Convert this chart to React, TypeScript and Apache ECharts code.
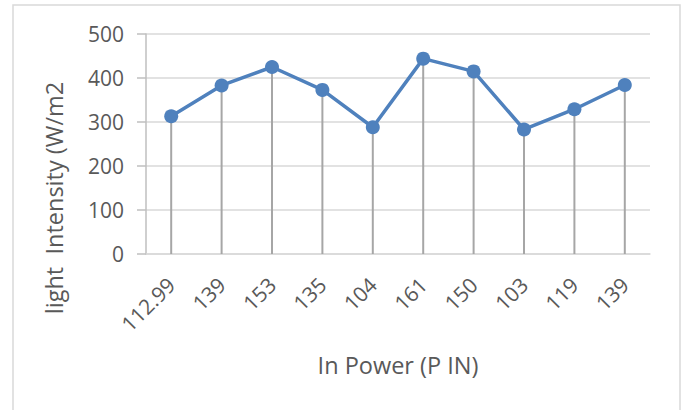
import React, { useEffect, useRef } from "react";
import * as echarts from "echarts";

const categories = ["112.99", "139", "153", "135", "104", "161", "150", "103", "119", "139"];
const intensity = [313, 383, 425, 373, 288, 444, 415, 283, 329, 384];
const yTicks = { min: 0, max: 500, interval: 100 };
const yTitle = "light  Intensity (W/m2";
const xTitle = "In Power (P IN)";

const FONT = "'Open Sans', 'DejaVu Sans', sans-serif";
const TXT = "#595959";

export default function App() {
  const ref = useRef<HTMLDivElement>(null);
  useEffect(() => {
    document.body.style.margin = "0";
    const chart = echarts.init(ref.current!, null, { renderer: "svg" });
    chart.setOption({
      animation: false,
      backgroundColor: "#ffffff",
      grid: { left: 146, right: 35, top: 34, bottom: 156, containLabel: false },
      xAxis: {
        type: "category",
        data: categories,
        boundaryGap: true,
        axisLine: { show: true, lineStyle: { color: "#d9d9d9", width: 1.5 } },
        axisTick: { show: false },
        axisLabel: { rotate: 45, margin: 27, color: TXT, fontSize: 21, fontFamily: FONT },
        splitLine: { show: false },
      },
      yAxis: {
        type: "value",
        min: yTicks.min,
        max: yTicks.max,
        interval: yTicks.interval,
        axisLine: { show: true, lineStyle: { color: "#bfbfbf", width: 1.5 } },
        axisTick: { show: true, length: 9, lineStyle: { color: "#bfbfbf", width: 1.5 } },
        axisLabel: { margin: 22, color: TXT, fontSize: 21, fontFamily: FONT },
        splitLine: { show: true, lineStyle: { color: "#d9d9d9", width: 1.5 } },
      },
      series: [
        {
          type: "bar",
          data: intensity,
          barWidth: 2,
          itemStyle: { color: "#a6a6a6" },
          z: 1,
        },
        {
          type: "line",
          data: intensity,
          symbol: "circle",
          symbolSize: 14,
          lineStyle: { color: "#4f81bd", width: 3.5 },
          itemStyle: { color: "#4f81bd" },
          z: 3,
        },
      ],
      graphic: [
        {
          type: "rect",
          shape: { x: 13, y: 5, width: 667, height: 420 },
          style: { fill: "none", stroke: "#d9d9d9", lineWidth: 1.5 },
          silent: true,
        },
        {
          type: "text",
          x: 54,
          y: 198,
          rotation: Math.PI / 2,
          style: {
            text: yTitle,
            fill: TXT,
            font: `23.5px ${FONT}`,
            textAlign: "center",
            textVerticalAlign: "middle",
          },
        },
        {
          type: "text",
          x: 398,
          y: 365,
          style: {
            text: xTitle,
            fill: TXT,
            font: `23.5px ${FONT}`,
            textAlign: "center",
            textVerticalAlign: "middle",
          },
        },
      ],
    });
    return () => chart.dispose();
  }, []);
  return <div ref={ref} style={{ width: 685, height: 410 }} />;
}
